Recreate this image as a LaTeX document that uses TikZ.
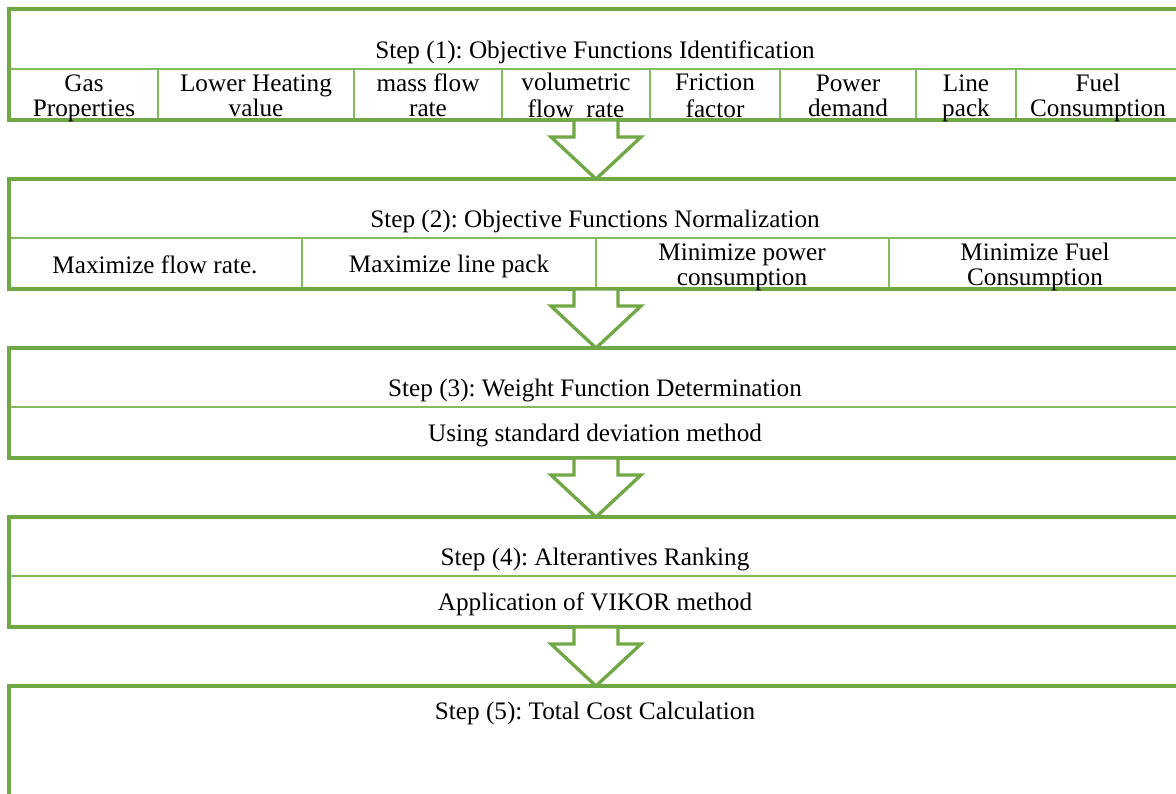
\documentclass[tikz,border=0pt]{standalone}
\usepackage{fontspec}
\setmainfont{Liberation Serif}
\usetikzlibrary{calc}
\definecolor{gout}{RGB}{112,168,70}
\definecolor{gin}{RGB}{130,188,94}
\frenchspacing
\begin{document}
\begin{tikzpicture}[x=1pt,y=-1pt,
  txt/.style={font=\fontsize{25.2}{25}\selectfont, align=center, inner sep=0pt, text=black},
  outerline/.style={draw=gout,line width=3.3pt},
  innerline/.style={draw=gin,line width=2.6pt},
  arrowline/.style={draw=gout,line width=3.3pt,line join=miter}]
\useasboundingbox (0,0) rectangle (1176,794);
\clip (0,0) rectangle (1176,794);
\fill[white] (0,0) rectangle (1176,794);

% ---------- Box 1 ----------
\draw[innerline] (9,69) -- (1190,69);
\foreach \x in {158,354,502,650,780,916,1016} \draw[innerline] (\x,69) -- (\x,120);
\draw[outerline] (1190,9) -- (9,9) -- (9,120) -- (1190,120);
\node[txt] (s1) at (595,53.5) {\strut Step (1): Objective Functions Identification};
\node[txt] (c11) at (84,99) {\strut Gas\\\strut Properties};
\node[txt] (c12) at (256,99) {\strut Lower Heating\\\strut value};
\node[txt] (c13) at (428,99) {\strut mass flow\\\strut rate};
\node[txt] (c14) at (576,99) {\strut volumetric\\\strut flow\ \ rate};
\node[txt] (c15) at (715,99) {\strut Friction\\\strut factor};
\node[txt] (c16) at (848,99) {\strut Power\\\strut demand};
\node[txt] (c17) at (966,99) {\strut Line\\\strut pack};
\node[txt] (c18) at (1098,99) {\strut Fuel\\\strut Consumption};
\coordinate (b1) at (596,120);

% ---------- Box 2 ----------
\draw[innerline] (9,238) -- (1190,238);
\foreach \x in {302,596,889} \draw[innerline] (\x,238) -- (\x,289);
\draw[outerline] (1190,179) -- (9,179) -- (9,289) -- (1190,289);
\coordinate (t2) at (596,179);
\coordinate (b2) at (596,289);
\node[txt] (s2) at (595,223) {\strut Step (2): Objective Functions Normalization};
\node[txt] (c21) at (155,268) {\strut Maximize flow rate.};
\node[txt] (c22) at (449,268) {\strut Maximize line pack};
\node[txt] (c23) at (742,268) {\strut Minimize power\\\strut consumption};
\node[txt] (c24) at (1035,268) {\strut Minimize Fuel\\\strut Consumption};

% ---------- Box 3 ----------
\draw[innerline] (9,407) -- (1190,407);
\draw[outerline] (1190,348) -- (9,348) -- (9,458) -- (1190,458);
\coordinate (t3) at (596,348);
\coordinate (b3) at (596,458);
\node[txt] (s3) at (595,391.5) {\strut Step (3): Weight Function Determination};
\node[txt] (c31) at (595,436) {\strut Using standard deviation method};

% ---------- Box 4 ----------
\draw[innerline] (9,576) -- (1190,576);
\draw[outerline] (1190,517) -- (9,517) -- (9,627) -- (1190,627);
\coordinate (t4) at (596,517);
\coordinate (b4) at (596,627);
\node[txt] (s4) at (595,560.5) {\strut Step (4): Alterantives Ranking};
\node[txt] (c41) at (595,605) {\strut Application of VIKOR method};

% ---------- Box 5 ----------
\draw[outerline] (1190,686) -- (9,686) -- (9,800);
\coordinate (t5) at (596,686);
\node[txt] (s5) at (595,714) {\strut Step (5): Total Cost Calculation};

% ---------- Block arrows ----------
\foreach \f/\t in {b1/t2,b2/t3,b3/t4,b4/t5}{
  \fill[white] ($(\f)+(-22,1.7)$) -- ($(\f)+(-22,17)$) -- ($(\f)+(-45,17)$) -- (\t)
     -- ($(\f)+(45,17)$) -- ($(\f)+(22,17)$) -- ($(\f)+(22,1.7)$) -- cycle;
  \draw[arrowline] ($(\f)+(-22,0)$) -- ($(\f)+(-22,17)$) -- ($(\f)+(-45,17)$) -- (\t)
     -- ($(\f)+(45,17)$) -- ($(\f)+(22,17)$) -- ($(\f)+(22,0)$);
}
\end{tikzpicture}
\end{document}
